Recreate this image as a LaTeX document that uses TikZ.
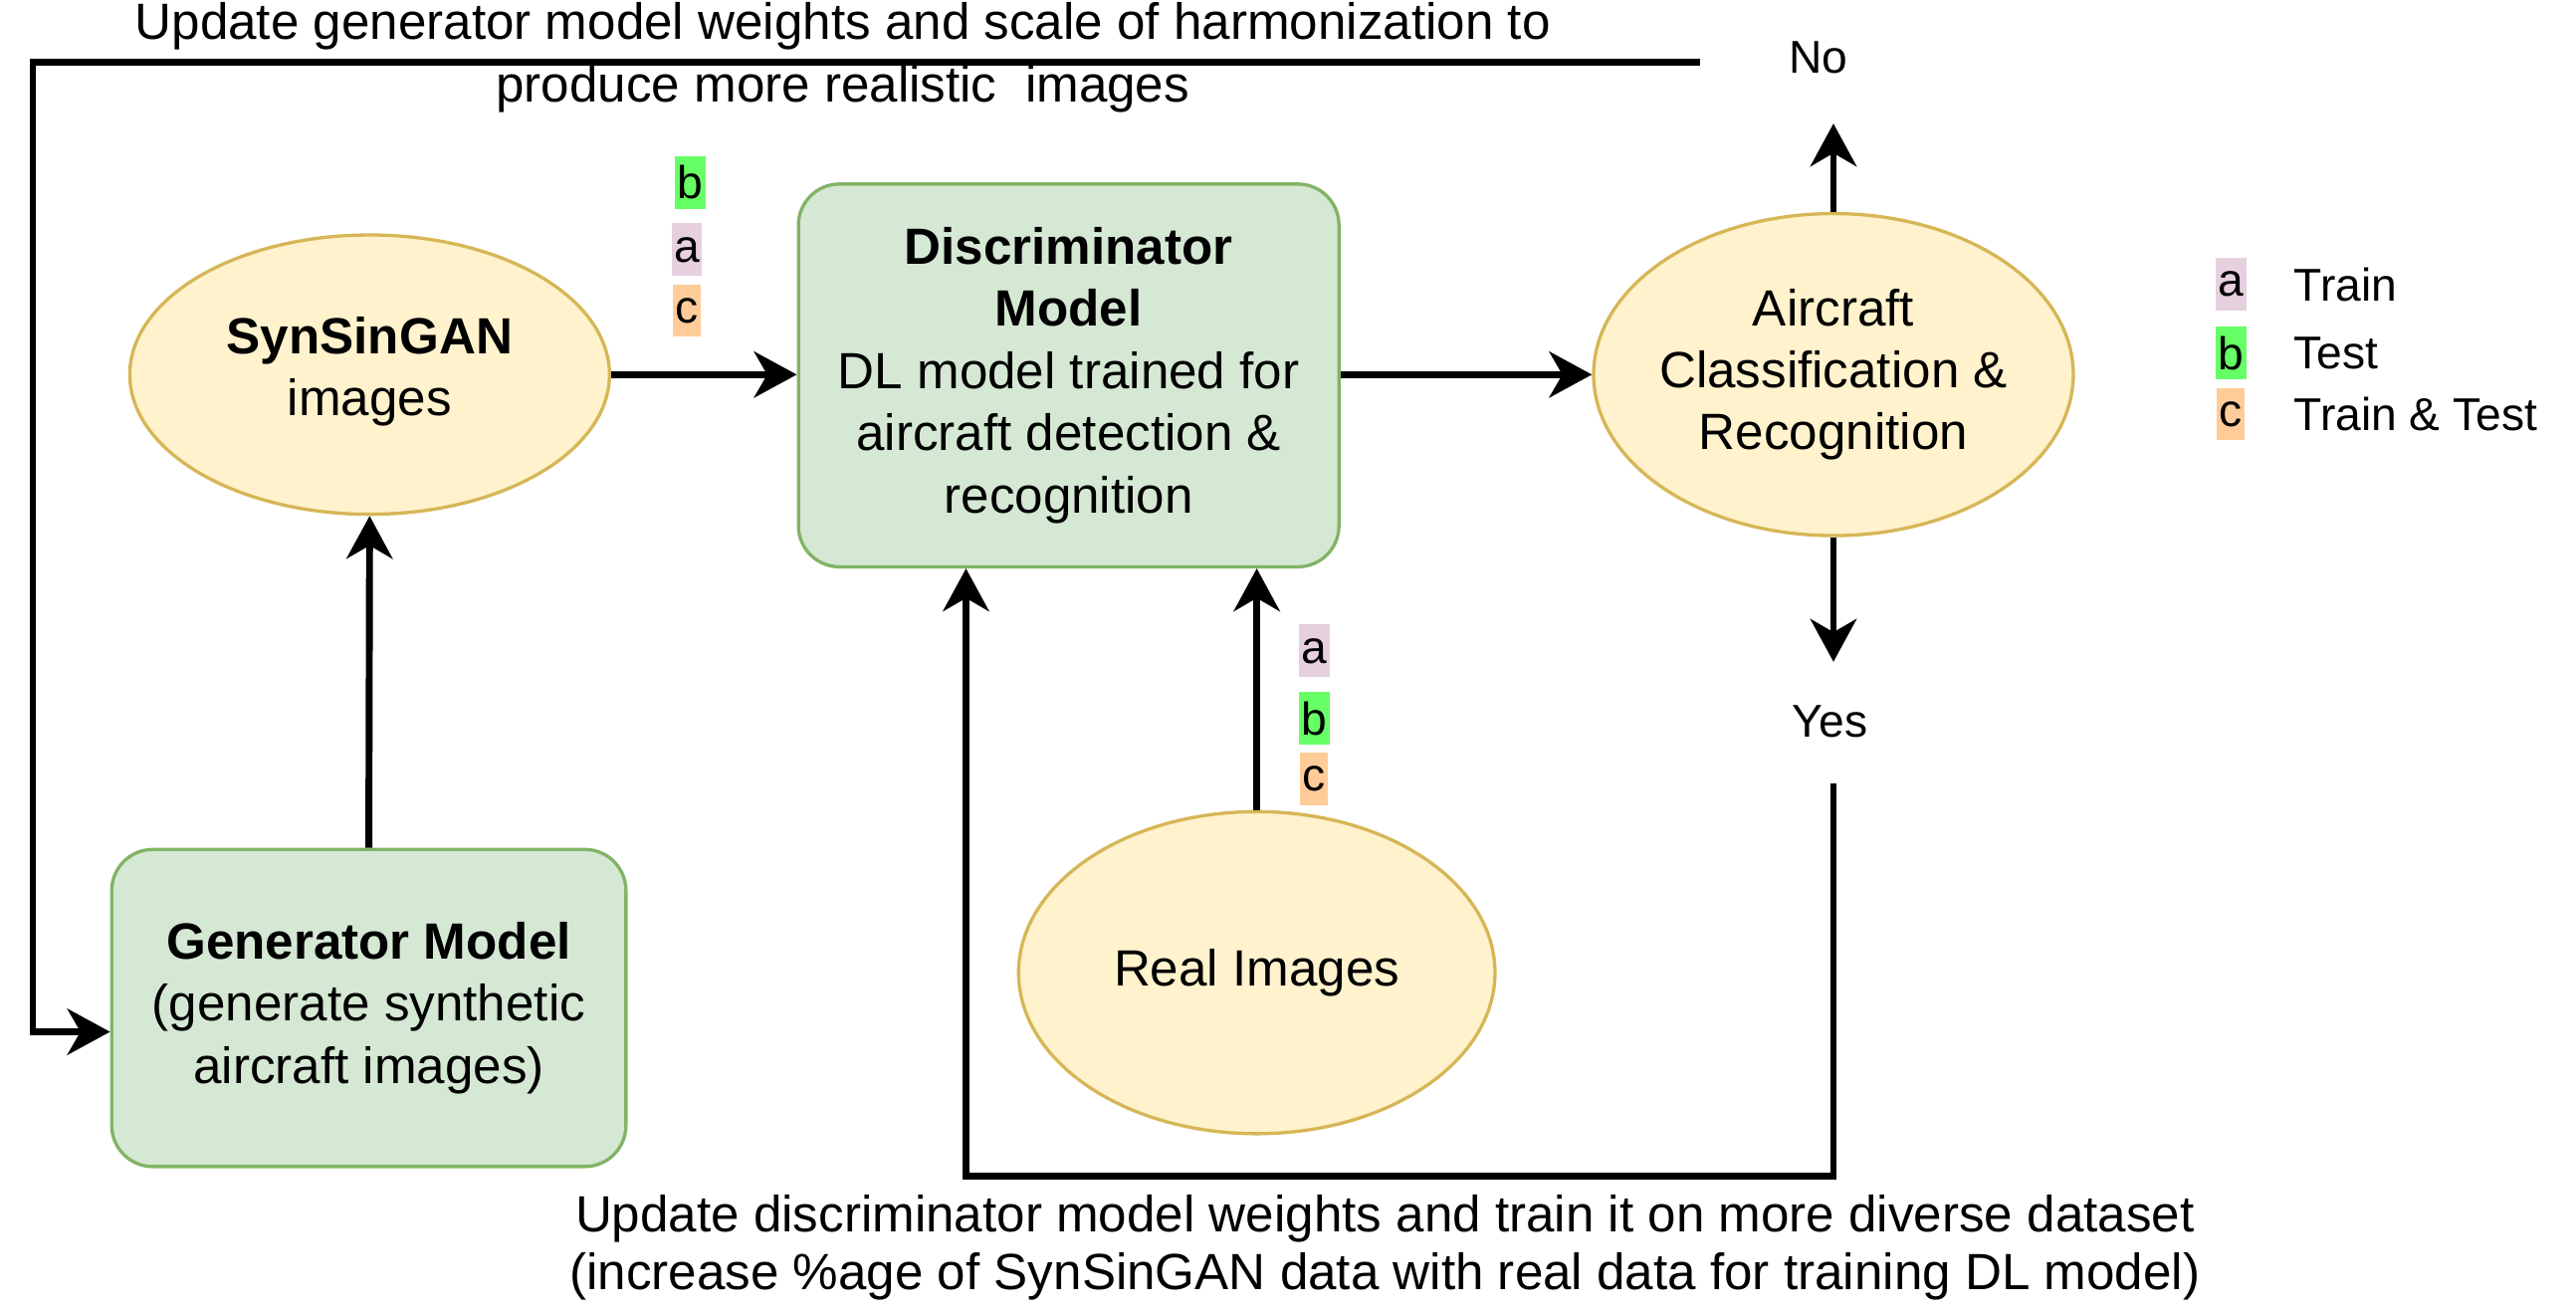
\documentclass[tikz,border=0pt]{standalone}
\usepackage{fontspec}
\setmainfont{Liberation Sans}
\usetikzlibrary{arrows.meta,shapes.geometric,calc}
\definecolor{ellfill}{HTML}{FFF2CC}
\definecolor{elldraw}{HTML}{D6B656}
\definecolor{boxfill}{HTML}{D5E8D4}
\definecolor{boxdraw}{HTML}{82B366}
\definecolor{tagA}{HTML}{E6D0DE}
\definecolor{tagB}{HTML}{66FF66}
\definecolor{tagC}{HTML}{FFCC99}
\newcommand{\mainfs}{\fontsize{31}{37.8}\selectfont}
\newcommand{\smallfs}{\fontsize{28}{36}\selectfont}
\begin{document}
\begin{tikzpicture}[x=1pt,y=-1pt,
  ellnode/.style={ellipse, draw=elldraw, fill=ellfill, line width=2pt, inner sep=0pt},
  boxnode/.style={rectangle, rounded corners=25pt, draw=boxdraw, fill=boxfill, line width=2pt, inner sep=0pt, align=center, font=\mainfs},
  txt/.style={align=center, font=\mainfs, inner sep=0pt},
  lbl/.style={align=center, font=\smallfs, inner sep=0pt},
  tag/.style={font=\smallfs, inner xsep=1.5pt, inner ysep=0pt, minimum height=32pt, text depth=0pt},
  conn/.style={line width=4.2pt, -{Stealth[length=26pt,width=28pt,inset=8pt]}},
  plain/.style={line width=4.2pt}
]
\useasboundingbox (0,0) rectangle (1568,800);

% nodes
\node[ellnode, minimum width=292pt, minimum height=170pt] (syn) at (225,228) {};
\node[txt] (syntxt) at (225,226) {\textbf{SynSinGAN}\\images};

\node[boxnode, minimum width=329pt, minimum height=233pt] (disc) at (650.5,228.5)
  {\textbf{Discriminator}\\\textbf{Model}\\DL model trained for\\aircraft detection \&\\recognition};

\node[ellnode, minimum width=292pt, minimum height=196pt] (air) at (1116,228) {};
\node[txt] (airtxt) at (air.center) {Aircraft\\Classification \&\\Recognition};

\node[ellnode, minimum width=290pt, minimum height=196pt] (real) at (765,592) {};
\node[txt] (realtxt) at (real.center) {Real Images};

\node[boxnode, minimum width=313pt, minimum height=193pt] (gen) at (224.5,613.5)
  {\textbf{Generator Model}\\(generate synthetic\\aircraft images)};

\node[lbl, minimum height=80pt] (no) at (1107,35) {No};
\node[lbl, minimum height=72pt] (yes) at (1114,439) {Yes};

% top feedback text
\node[txt] (toptxt1) at (513,16) {Update generator model weights and scale of harmonization to};
\node[txt] (toptxt2) at (513,54) {produce more realistic\ \ images};
% bottom feedback text
\node[txt] (bottxt1) at (843,742) {Update discriminator model weights and train it on more diverse dataset};
\node[txt] (bottxt2) at (843,777) {(increase \%age of SynSinGAN data with real data for training DL model)};

% tags near SynSinGAN arrow
\node[tag, fill=tagB] (t1b) at (420,111) {b};
\node[tag, fill=tagA] (t1a) at (418,152) {a};
\node[tag, fill=tagC] (t1c) at (418,189) {c};
% tags near real images arrow
\node[tag, fill=tagA] (t2a) at (800,396) {a};
\node[tag, fill=tagB] (t2b) at (800,437) {b};
\node[tag, fill=tagC] (t2c) at (800,474) {c};

% legend
\node[tag, fill=tagA] (la) at (1358,173) {a};
\node[lbl, anchor=west] (lat) at (1396,173) {Train};
\node[tag, fill=tagB] (lb) at (1358,215) {b};
\node[lbl, anchor=west] (lbt) at (1396,215) {Test};
\node[tag, fill=tagC] (lc) at (1358,252) {c};
\node[lbl, anchor=west] (lct) at (1396,252) {Train \& Test};

% connectors
\draw[conn] (gen.north) -- (syn.south);
\draw[conn] (syn.east) -- (syn.east -| disc.west);
\draw[conn] (air.west -| disc.east) -- (air.west);
\draw[conn] (air.north) -- (air.north |- no.south);
\draw[conn] (air.south) -- (air.south |- yes.north);
\draw[conn] (real.north) -- (real.north |- disc.south);

\coordinate (topstart) at (1035,38);
\coordinate (topcorner) at (20,38);
\coordinate (genin) at ($(gen.west)+(0,14.5)$);
\draw[conn] (topstart) -- (topcorner) |- (genin);

\coordinate (yesout) at (1116,477);
\coordinate (botcorner) at (1116,716);
\coordinate (discin) at (588,0);
\draw[conn] (yesout) -- (botcorner) -| (discin |- disc.south);
\end{tikzpicture}
\end{document}
